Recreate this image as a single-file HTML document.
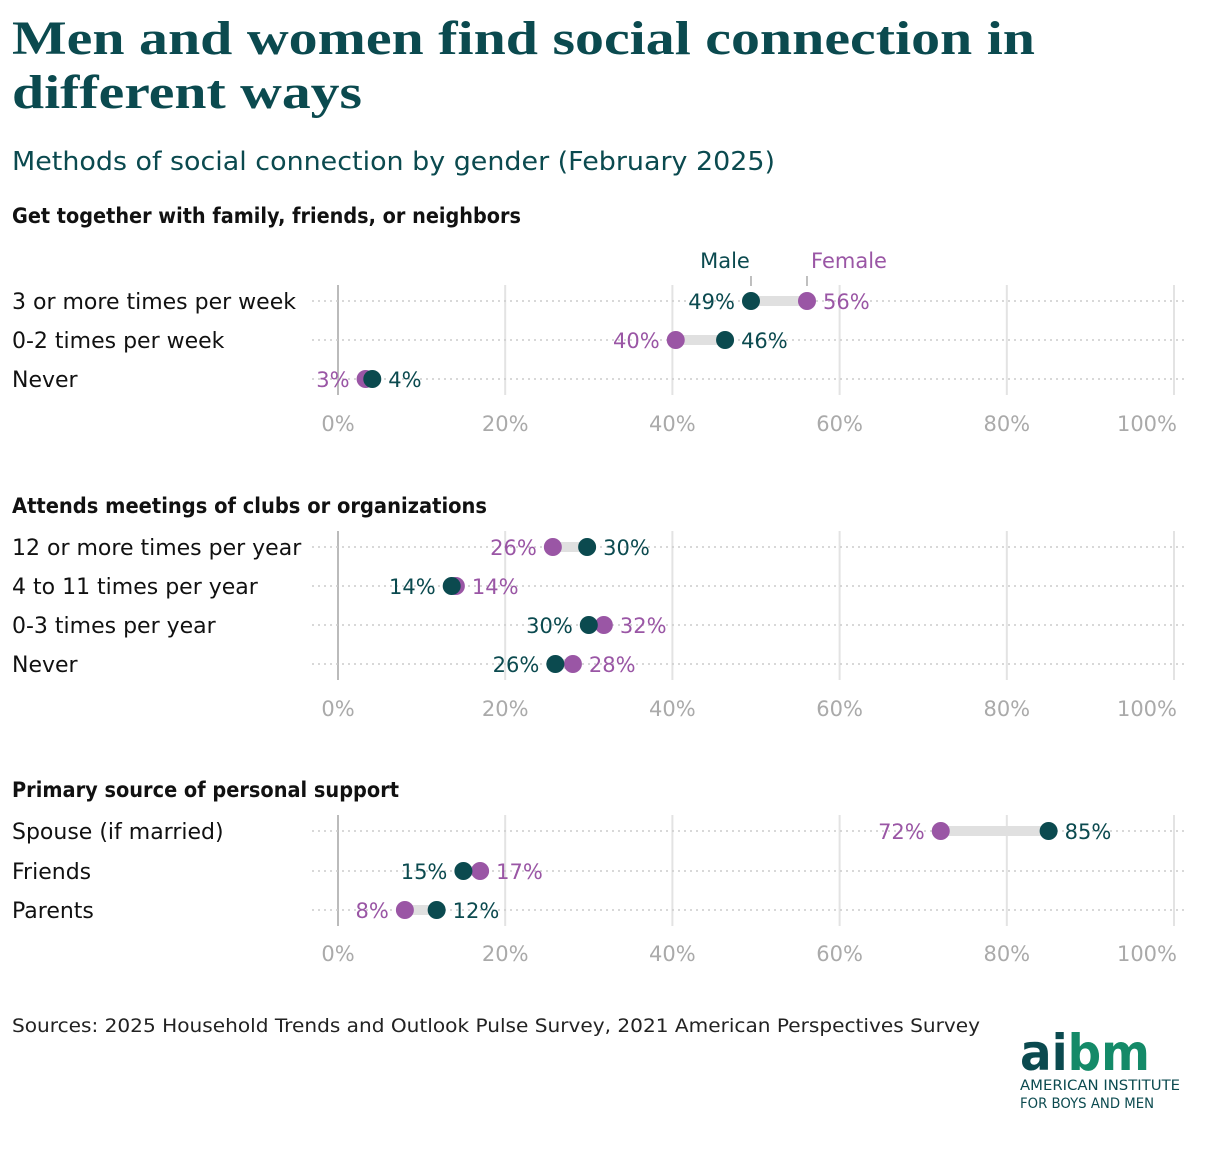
<!DOCTYPE html>
<html><head><meta charset="utf-8"><style>
body{margin:0;background:#fff;width:1220px;height:1148px;overflow:hidden;font-family:"DejaVu Sans","Liberation Sans",sans-serif}
svg text{font-family:"DejaVu Sans","Liberation Sans",sans-serif}
svg text.serif{font-family:"Liberation Serif","DejaVu Serif",serif}
</style></head><body>
<svg id="chart" width="1220" height="1148" xmlns="http://www.w3.org/2000/svg">
<text class="serif" x="12" y="54" font-weight="bold" font-size="48" fill="#0b4a4f" textLength="1023" lengthAdjust="spacingAndGlyphs">Men and women find social connection in</text>
<text class="serif" x="12" y="108" font-weight="bold" font-size="48" fill="#0b4a4f" textLength="350" lengthAdjust="spacingAndGlyphs">different ways</text>
<text x="12" y="170" font-size="26" fill="#0b4a4f" textLength="763" lengthAdjust="spacingAndGlyphs">Methods of social connection by gender (February 2025)</text>
<text x="12" y="1032" font-size="19" fill="#222" textLength="968" lengthAdjust="spacingAndGlyphs">Sources: 2025 Household Trends and Outlook Pulse Survey, 2021 American Perspectives Survey</text>
<g>
<text x="1020" y="1070" font-size="50" font-weight="bold" fill="#0b4a4f" textLength="130" lengthAdjust="spacingAndGlyphs">ai<tspan fill="#148a68">bm</tspan></text>
<text x="1020" y="1090" font-size="14" fill="#0b4a4f" textLength="160" lengthAdjust="spacingAndGlyphs">AMERICAN INSTITUTE</text>
<text x="1020" y="1108" font-size="14" fill="#0b4a4f" textLength="134" lengthAdjust="spacingAndGlyphs">FOR BOYS AND MEN</text>
</g>
<g id="plots"></g>
</svg>
<script>
const sectionTitles=["Get together with family, friends, or neighbors","Attends meetings of clubs or organizations","Primary source of personal support"];
const cat1=["3 or more times per week","0-2 times per week","Never"];
const male1=[49.4,46.3,4.1];
const female1=[56.1,40.4,3.3];
const cat2=["12 or more times per year","4 to 11 times per year","0-3 times per year","Never"];
const male2=[29.8,13.6,30,26];
const female2=[25.7,14.1,31.8,28.1];
const cat3=["Spouse (if married)","Friends","Parents"];
const male3=[85,15,11.8];
const female3=[72.1,17,8];
const ticks=[0,20,40,60,80,100];
const tickLabels=["0%","20%","40%","60%","80%","100%"];

const NS="http://www.w3.org/2000/svg";
const TEAL="#0b4a4f",PURPLE="#9a56a5";
const titleLens=[509,475,387];
const x=v=>338+v*8.36;
const g=document.getElementById('plots');
function mk(t,a,txt){const e=document.createElementNS(NS,t);for(const k in a)e.setAttribute(k,a[k]);if(txt!=null)e.textContent=txt;g.appendChild(e);return e;}
const sections=[
 {cats:cat1,m:male1,f:female1,titleY:223,rows:[301,340,379],axisY:431},
 {cats:cat2,m:male2,f:female2,titleY:513,rows:[547,586,625,664],axisY:716},
 {cats:cat3,m:male3,f:female3,titleY:797,rows:[831,871,910],axisY:961}];
sections.forEach((s,si)=>{
 const t=mk('text',{x:12,y:s.titleY,'font-size':21,'font-weight':'bold',fill:'#111',textLength:titleLens[si],lengthAdjust:'spacingAndGlyphs'},sectionTitles[si]);
 
 
 const top=s.rows[0]-16,bot=s.rows[s.rows.length-1]+16;
 ticks.forEach((tv,i)=>{
  const gl=mk('line',{x1:x(tv),x2:x(tv),y1:top,y2:bot,stroke:tv===0?'#bbb':'#e3e3e3','stroke-width':2});
  
  
  const last=i===ticks.length-1;
  const tl=mk('text',{x:last?x(tv)+3:x(tv),y:s.axisY,'font-size':21,fill:'#aaa','text-anchor':last?'end':'middle'},tickLabels[i]);
  
  
 });
 s.cats.forEach((c,i)=>{
  const y=s.rows[i];
  const d=mk('line',{x1:312,x2:1188,y1:y,y2:y,stroke:'#ccc','stroke-width':1.5,'stroke-dasharray':'2,4'});
  
  
  const rl=mk('text',{x:12,y:y+8,'font-size':22,fill:'#111'},c);
  
  
  const mv=s.m[i],fv=s.f[i];
  const bar=mk('line',{x1:x(mv),x2:x(fv),y1:y,y2:y,stroke:'#e0e0e0','stroke-width':10});
  
  
  const mLeft=mv<=fv;
  [[mv,TEAL,mLeft,'male'],[fv,PURPLE,!mLeft,'female']].forEach(([v,col,left,nm])=>{
   const lab=mk('text',{x:left?x(v)-16:x(v)+16,y:y+8,'font-size':21,fill:col,'text-anchor':left?'end':'start'},Math.round(v)+'%');
   
   
  });
  const fd=mk('circle',{cx:x(fv),cy:y,r:9,fill:PURPLE});
  
  
  const md=mk('circle',{cx:x(mv),cy:y,r:9,fill:TEAL});
  
  
  if(si===0&&i===0){
   const ml=mk('text',{x:x(mv)-26,y:268,'font-size':21,fill:TEAL,'text-anchor':'middle'},'Male');
   
   
   const fl=mk('text',{x:x(fv)+42,y:268,'font-size':21,fill:PURPLE,'text-anchor':'middle'},'Female');
   
   
   [mv,fv].forEach(v=>{const tk=mk('line',{x1:x(v),x2:x(v),y1:276,y2:286,stroke:'#aaa','stroke-width':1.5});
    
    });
  }
 });
});
</script>
</body></html>
